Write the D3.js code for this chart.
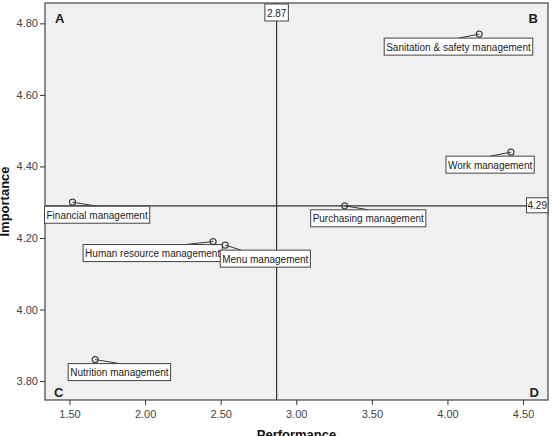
<!DOCTYPE html>
<html>
<head>
<meta charset="utf-8">
<script src="https://cdn.jsdelivr.net/npm/d3@7"></script>
<style>
  body { margin: 0; background: #fff; }
  svg { display: block; font-family: "Liberation Sans", Arial, sans-serif; }
  .tick text { fill: #444; font-size: 11px; }
  .tick line { stroke: #333; }
  .domain { display: none; }
  .lbl { font-size: 10px; fill: #222; }
  .quad { font-size: 13px; font-weight: bold; fill: #222; }
  .title { font-size: 13px; font-weight: bold; fill: #111; }
</style>
</head>
<body>
<svg id="chart" width="552" height="436"></svg>
<script>
// data
const items = ["Financial management", "Human resource management", "Menu management",
               "Purchasing management", "Nutrition management",
               "Sanitation & safety management", "Work management"];
const performance = [1.52, 2.45, 2.53, 3.32, 1.67, 4.21, 4.42];
const importance = [4.30, 4.19, 4.18, 4.29, 3.86, 4.77, 4.44];
const meanPerformance = 2.87;
const meanImportance = 4.29;
const xTicks = [1.5, 2.0, 2.5, 3.0, 3.5, 4.0, 4.5];
const yTicks = [3.8, 4.0, 4.2, 4.4, 4.6, 4.8];
const quadrants = ["A", "B", "C", "D"];

// label placement (pixels, box top-left relative to point; leader end x inside box, null = centre)
const labelDx = [-28, -130, -5, -34, -27, -95, -65];
const labelDy = [4, 3, 5, 4, 4, 4, 4];
const leaderX = [null, 102, 21, null, null, null, null];

const margin = {left: 45, top: 3, right: 4, bottom: 36};
const W = 552, H = 436;

let svg = d3.select("#chart");

let xScale = d3.scaleLinear().domain([1.338, 4.665]).range([margin.left, W - margin.right]);
let yScale = d3.scaleLinear().domain([3.747, 4.857]).range([H - margin.bottom, margin.top]);

// plot background
svg.append("rect")
    .attr("x", margin.left).attr("y", margin.top)
    .attr("width", W - margin.left - margin.right)
    .attr("height", H - margin.top - margin.bottom)
    .attr("fill", "#f0f0f0");

// axes
svg.append("g").attr("class", "axis")
    .attr("transform", `translate(0,${H - margin.bottom})`)
    .call(d3.axisBottom(xScale).tickValues(xTicks).tickFormat(d3.format(".2f")).tickSize(5).tickPadding(5));

svg.append("g").attr("class", "axis")
    .attr("transform", `translate(${margin.left},0)`)
    .call(d3.axisLeft(yScale).tickValues(yTicks).tickFormat(d3.format(".2f")).tickSize(5).tickPadding(2));

// plot border
svg.append("rect")
    .attr("x", margin.left).attr("y", margin.top)
    .attr("width", W - margin.left - margin.right)
    .attr("height", H - margin.top - margin.bottom)
    .attr("fill", "none").attr("stroke", "#444").attr("stroke-width", 1.2);

// mean lines
svg.append("line")
    .attr("x1", xScale(meanPerformance)).attr("x2", xScale(meanPerformance))
    .attr("y1", margin.top).attr("y2", H - margin.bottom)
    .attr("stroke", "#333").attr("stroke-width", 1.2);
svg.append("line")
    .attr("x1", margin.left).attr("x2", W - margin.right)
    .attr("y1", yScale(meanImportance)).attr("y2", yScale(meanImportance))
    .attr("stroke", "#333").attr("stroke-width", 1.2);

function boxedText(g, txt, x, y, anchor) {
    let t = g.append("text").attr("class", "lbl").text(txt);
    let w = t.node().getComputedTextLength() + 4;
    let h = 17;
    let left = anchor === "middle" ? x - w / 2 : anchor === "end" ? x - w : x;
    g.insert("rect", "text")
        .attr("x", left).attr("y", y).attr("width", w).attr("height", h)
        .attr("fill", "#fff").attr("stroke", "#444").attr("stroke-width", 1);
    t.attr("x", left + 2).attr("y", y + 12.5);
    return {left: left, w: w, h: h};
}

// mean labels
boxedText(svg.append("g"), d3.format(".2f")(meanPerformance), xScale(meanPerformance), margin.top + 1, "middle");
let g429 = svg.append("g");
let t429 = g429.append("text").attr("class", "lbl").text(d3.format(".2f")(meanImportance));
let w429 = t429.node().getComputedTextLength() + 2;
g429.insert("rect", "text")
    .attr("x", W - margin.right - w429).attr("y", yScale(meanImportance) - 8)
    .attr("width", w429).attr("height", 15)
    .attr("fill", "#fff").attr("stroke", "#444");
t429.attr("x", W - margin.right - w429 + 1).attr("y", yScale(meanImportance) + 3.5);

// points with leader lines and labels
items.forEach(function (name, i) {
    let px = xScale(performance[i]);
    let py = yScale(importance[i]);
    let g = svg.append("g");
    let lineEl = g.append("line").attr("stroke", "#333").attr("stroke-width", 1);
    let b = boxedText(g, name, px + labelDx[i], py + labelDy[i], "start");
    let lx = leaderX[i] === null ? b.left + b.w / 2 : b.left + leaderX[i];
    lineEl.attr("x1", px).attr("y1", py).attr("x2", lx).attr("y2", py + labelDy[i]);
    g.append("circle")
        .attr("cx", px).attr("cy", py).attr("r", 3)
        .attr("fill", "none").attr("stroke", "#444").attr("stroke-width", 1.2);
});

// quadrant letters
const qPos = [
    [margin.left + 10, margin.top + 20, "start"],
    [W - margin.right - 10, margin.top + 20, "end"],
    [margin.left + 9, H - margin.bottom - 3, "start"],
    [W - margin.right - 9, H - margin.bottom - 3, "end"]
];
quadrants.forEach(function (q, i) {
    svg.append("text").attr("class", "quad")
        .attr("x", qPos[i][0]).attr("y", qPos[i][1])
        .attr("text-anchor", qPos[i][2]).text(q);
});

// axis titles
svg.append("text").attr("class", "title")
    .attr("x", (margin.left + W - margin.right) / 2).attr("y", 439)
    .attr("text-anchor", "middle").text("Performance");
svg.append("text").attr("class", "title")
    .attr("transform", `translate(9,${(margin.top + H - margin.bottom) / 2}) rotate(-90)`)
    .attr("text-anchor", "middle").text("Importance");
</script>
</body>
</html>
